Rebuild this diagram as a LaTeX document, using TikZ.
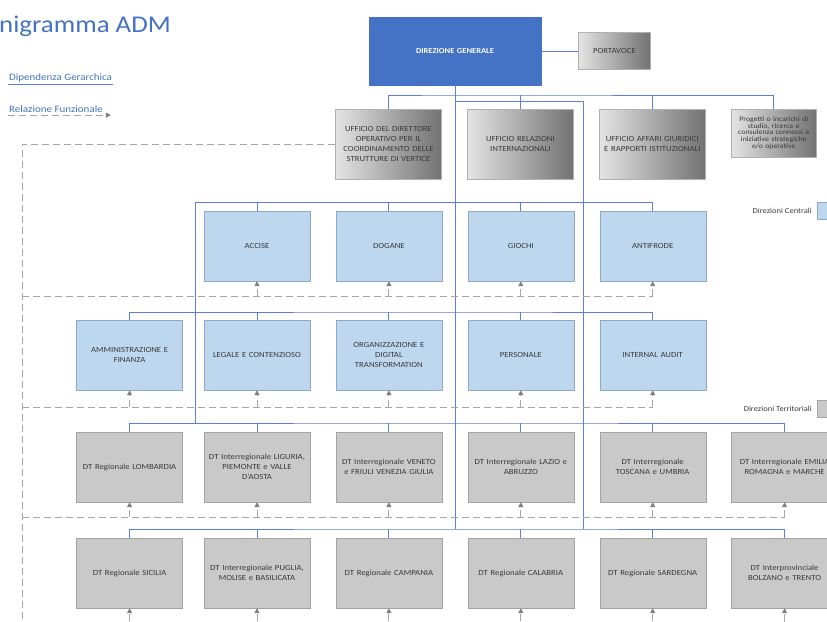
\documentclass[tikz,border=0pt]{standalone}
\usepackage{fontspec}
\setmainfont[FakeStretch=1.12]{Carlito}
\usepackage{tikz}
\usetikzlibrary{arrows.meta, positioning}
\definecolor{admblue}{HTML}{4472C4}
\definecolor{lineblue}{HTML}{5B80D6}
\definecolor{dcfill}{HTML}{BDD7EE}
\definecolor{dcborder}{HTML}{8FA9C6}
\definecolor{dtfill}{HTML}{C9C9C9}
\definecolor{dtborder}{HTML}{A3A3A3}
\definecolor{stlight}{HTML}{E4E4E4}
\definecolor{stdark}{HTML}{727272}
\definecolor{stborder}{HTML}{B0B0B0}
\definecolor{dashgray}{HTML}{A6A6A6}
\definecolor{arrowgray}{HTML}{7F7F7F}
\definecolor{boxtext}{HTML}{3A3A3A}
\tikzset{
>={Triangle[length=5pt,width=5pt,color=arrowgray]}, % small grey heads
node distance=25.5pt, % gap between two boxes of a row
every node/.style={inner sep=1pt},
orgbox/.style={minimum width=106pt, minimum height=70pt, text width=104pt,
  align=center, text=boxtext, font=\fontsize{7.8}{10}\selectfont},
centrale/.style={orgbox, draw=dcborder, fill=dcfill}, % direzioni centrali
territoriale/.style={orgbox, draw=dtborder, fill=dtfill}, % direzioni territoriali
staff/.style={orgbox, draw=stborder, left color=stlight, right color=stdark},
gerarchia/.style={draw=lineblue, line width=1pt},
funzione/.style={draw=dashgray, line width=1pt, dash pattern=on 7pt off 4pt},
legenda/.style={font=\fontsize{9.8}{11}\selectfont, text=admblue},
}

\begin{document}
\begin{tikzpicture}[x=1pt,y=-1pt]%pixel grid, y going down
  \useasboundingbox (0,0) rectangle (827,621);

  \node[anchor=base west, inner sep=0pt, text=admblue, font=\fontsize{24}{24}\selectfont] (titolo) at (-1,32) {nigramma ADM};

  % legenda
  \node[legenda, anchor=west] (gerlab) at (8,78) {Dipendenza Gerarchica};
  \node[legenda, anchor=west] (funlab) at (8,109) {Relazione Funzionale};
  \draw[gerarchia, line width=1.3pt] ([yshift=-1pt]gerlab.south west) -- ([yshift=-1pt]gerlab.south east);
  \draw[funzione, ->] ([yshift=-1.5pt]funlab.south west) -- ([xshift=7pt, yshift=-1.5pt]funlab.south east);

  % vertice
  \node[orgbox, draw=admblue, fill=admblue, minimum width=172pt, minimum height=68pt, text=white, font=\bfseries\fontsize{7.6}{9}\selectfont] (dg) at (455,51) {DIREZIONE GENERALE};
  \node[staff, minimum width=72pt, minimum height=37pt, text width=68pt, right=37pt of dg] (portavoce) {PORTAVOCE};

  \node[staff] (udo) at (388.5,144) {UFFICIO DEL DIRETTORE\\OPERATIVO PER IL\\COORDINAMENTO DELLE\\STRUTTURE DI VERTICE};
  \node[staff, right=of udo] (uri) {UFFICIO RELAZIONI\\INTERNAZIONALI};
  \node[staff, right=of uri] (uag) {UFFICIO AFFARI GIURIDICI\\E RAPPORTI ISTITUZIONALI};
  \node[staff, minimum width=85pt, minimum height=48pt, text width=83pt, font=\fontsize{7}{6.6}\selectfont, right=of uag.north east, anchor=north west] (prog) {Progetti o incarichi di\\studio, ricerca e\\consulenza connessi a\\iniziative strategiche\\e/o operative};

  % direzioni centrali
  \node[centrale] (accise) at (257,246) {ACCISE};
  \node[centrale, right=of accise] (dogane) {DOGANE};
  \node[centrale, right=of dogane] (giochi) {GIOCHI};
  \node[centrale, right=of giochi] (antifrode) {ANTIFRODE};

  \node[centrale] (legale) at (257,355) {LEGALE E CONTENZIOSO};
  \node[centrale, left=21pt of legale] (amm) {AMMINISTRAZIONE E\\FINANZA};
  \node[centrale, right=of legale] (organizz) {ORGANIZZAZIONE E\\DIGITAL\\TRANSFORMATION};
  \node[centrale, right=of organizz] (personale) {PERSONALE};
  \node[centrale, right=of personale] (audit) {INTERNAL AUDIT};

  % direzioni territoriali
  \node[territoriale] (liguria) at (257,467) {DT Interregionale LIGURIA,\\PIEMONTE e VALLE\\D'AOSTA};
  \node[territoriale, left=21pt of liguria] (lomb) {DT Regionale LOMBARDIA};
  \node[territoriale, right=of liguria] (veneto) {DT Interregionale VENETO\\e FRIULI VENEZIA GIULIA};
  \node[territoriale, right=of veneto] (lazio) {DT Interregionale LAZIO e\\ABRUZZO};
  \node[territoriale, right=of lazio] (toscana) {DT Interregionale\\TOSCANA e UMBRIA};
  \node[territoriale, right=of toscana] (emilia) {DT Interregionale EMILIA\\ROMAGNA e MARCHE};

  \node[territoriale] (puglia) at (257,573) {DT Interregionale PUGLIA,\\MOLISE e BASILICATA};
  \node[territoriale, left=21pt of puglia] (sicilia) {DT Regionale SICILIA};
  \node[territoriale, right=of puglia] (campania) {DT Regionale CAMPANIA};
  \node[territoriale, right=of campania] (calabria) {DT Regionale CALABRIA};
  \node[territoriale, right=of calabria] (sardegna) {DT Regionale SARDEGNA};
  \node[territoriale, right=of sardegna] (bolzano) {DT Interprovinciale\\BOLZANO e TRENTO};

  % legenda a destra
  \node[draw=dcborder, fill=dcfill, minimum width=18pt, minimum height=17pt, anchor=north west] (dcsq) at (817,202) {};
  \node[left=4pt of dcsq, text=boxtext, font=\fontsize{7.6}{8}\selectfont] (dclab) {Direzioni Centrali};
  \node[draw=dtborder, fill=dtfill, minimum width=18pt, minimum height=17pt, anchor=north west] (dtsq) at (817,400) {};
  \node[left=4pt of dtsq, text=boxtext, font=\fontsize{7.6}{8}\selectfont] (dtlab) {Direzioni Territoriali};

  % dipendenza gerarchica
  \coordinate (bus0) at (455,95);
  \coordinate (spine) at (583,101);
  \coordinate (lspine) at (195,202);
  \coordinate (bus2) at (455,312);
  \coordinate (bus3) at (455,423);
  \coordinate (bus4) at (455,529);

  \draw[gerarchia] (dg) -- (portavoce);
  \draw[gerarchia] (dg.south) -- (bus4);
  \draw[gerarchia] (udo.north) |- (bus0) -| (prog.north);
  \draw[gerarchia] (dg.south |- spine) -- (spine) -- (spine |- bus4);
  \draw[gerarchia] (lspine) -| (antifrode.north);
  \draw[gerarchia] (lspine) -- (lspine |- bus3);
  \draw[gerarchia] (amm.north) |- (bus2) -| (audit.north);
  \draw[gerarchia] (lomb.north) |- (bus3) -| (emilia.north);
  \draw[gerarchia] (sicilia.north) |- (bus4) -| (bolzano.north);

  \path[gerarchia]
  (uri.north) edge (uri.north |- bus0)
  (uag.north) edge (uag.north |- bus0)
  (accise.north) edge (accise.north |- lspine)
  (dogane.north) edge (dogane.north |- lspine)
  (giochi.north) edge (giochi.north |- lspine)
  (legale.north) edge (legale.north |- bus2)
  (organizz.north) edge (organizz.north |- bus2)
  (personale.north) edge (personale.north |- bus2)
  (liguria.north) edge (liguria.north |- bus3)
  (veneto.north) edge (veneto.north |- bus3)
  (lazio.north) edge (lazio.north |- bus3)
  (toscana.north) edge (toscana.north |- bus3)
  (puglia.north) edge (puglia.north |- bus4)
  (campania.north) edge (campania.north |- bus4)
  (calabria.north) edge (calabria.north |- bus4)
  (sardegna.north) edge (sardegna.north |- bus4);

  % relazione funzionale
  \coordinate (fv) at (22,145);
  \coordinate (fend) at (22,621);
  \coordinate (f1) at (22,296);
  \coordinate (f2) at (22,407);
  \coordinate (f3) at (22,517);

  \draw[funzione] (udo.west) -- (udo.west -| fv) -- (fend);
  \draw[funzione] (f1) -- (f1 -| antifrode.south);
  \draw[funzione] (f2) -- (f2 -| audit.south);
  \draw[funzione] (f3) -- (f3 -| emilia.south);

  \path[funzione, ->]
  (accise.south |- f1) edge (accise.south)
  (dogane.south |- f1) edge (dogane.south)
  (giochi.south |- f1) edge (giochi.south)
  (antifrode.south |- f1) edge (antifrode.south)
  (amm.south |- f2) edge (amm.south)
  (legale.south |- f2) edge (legale.south)
  (organizz.south |- f2) edge (organizz.south)
  (personale.south |- f2) edge (personale.south)
  (audit.south |- f2) edge (audit.south)
  (lomb.south |- f3) edge (lomb.south)
  (liguria.south |- f3) edge (liguria.south)
  (veneto.south |- f3) edge (veneto.south)
  (lazio.south |- f3) edge (lazio.south)
  (toscana.south |- f3) edge (toscana.south)
  (emilia.south |- f3) edge (emilia.south)
  (sicilia.south |- fend) edge (sicilia.south)
  (puglia.south |- fend) edge (puglia.south)
  (campania.south |- fend) edge (campania.south)
  (calabria.south |- fend) edge (calabria.south)
  (sardegna.south |- fend) edge (sardegna.south)
  (bolzano.south |- fend) edge (bolzano.south);
\end{tikzpicture}
\end{document}
